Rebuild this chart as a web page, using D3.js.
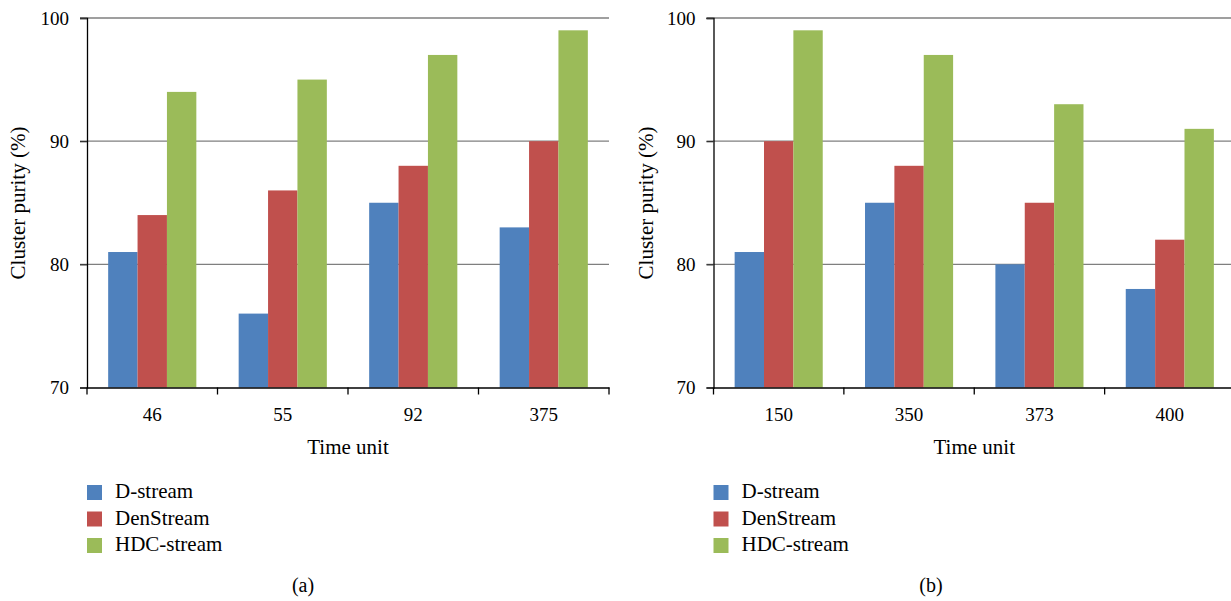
<!DOCTYPE html>
<html>
<head>
<meta charset="utf-8">
<script src="https://cdn.jsdelivr.net/npm/d3@7"></script>
<style>
  html, body { margin: 0; padding: 0; background: #fff; }
  svg { display: block; }
</style>
</head>
<body>
<svg id="chart" width="1231" height="601"></svg>
<script>
// ---- data ----
const series = ["D-stream", "DenStream", "HDC-stream"];
const colors = ["#4F81BD", "#C0504D", "#9BBB59"];
const yTicks = [70, 80, 90, 100];

const categoriesA = ["46", "55", "92", "375"];
const dstreamA    = [81, 76, 85, 83];
const denstreamA  = [84, 86, 88, 90];
const hdcstreamA  = [94, 95, 97, 99];

const categoriesB = ["150", "350", "373", "400"];
const dstreamB    = [81, 85, 80, 78];
const denstreamB  = [90, 88, 85, 82];
const hdcstreamB  = [99, 97, 93, 91];

const yTitle = "Cluster purity (%)";
const xTitle = "Time unit";

// ---- drawing ----
const FONT = "'Liberation Serif', 'Times New Roman', Times, 'DejaVu Serif', serif";
const svg = d3.select("#chart");

function styleText(sel, size) {
  sel.style("font-family", FONT).style("font-size", size + "px").attr("fill", "#000");
}

function panel(opts) {
  const { categories, values, x0, x1, yTitleX, captionX, caption } = opts;
  const top = 18, bottom = 387.5;
  const g = svg.append("g");

  const x = d3.scaleBand().domain(categories).range([x0, x1]).padding(0);
  const xs = d3.scaleBand().domain(series).range([0, x.bandwidth()])
    .paddingInner(0).paddingOuter(0.72);
  const y = d3.scaleLinear().domain([70, 100]).range([bottom, top]);

  // gridlines
  g.append("g").selectAll("line")
    .data(yTicks.filter(t => t > 70))
    .join("line")
    .attr("x1", x0 - 7).attr("x2", x1)
    .attr("y1", d => y(d)).attr("y2", d => y(d))
    .attr("stroke", "#7f7f7f").attr("stroke-width", 1.3);

  // bars
  categories.forEach((c, i) => {
    series.forEach((s, j) => {
      const v = values[j][i];
      g.append("rect")
        .attr("x", x(c) + xs(s))
        .attr("y", y(v))
        .attr("width", xs.bandwidth())
        .attr("height", y(70) - y(v))
        .attr("fill", colors[j]);
    });
  });

  // y axis
  const yAxis = d3.axisLeft(y).tickValues(yTicks).tickSize(7).tickPadding(11);
  const ya = g.append("g").attr("transform", `translate(${x0},0)`).call(yAxis);
  ya.attr("font-family", null).attr("font-size", null);
  ya.select(".domain").attr("stroke", "#000").attr("stroke-width", 1.3);
  ya.selectAll(".tick line").attr("stroke", "#333").attr("stroke-width", 1.3);
  styleText(ya.selectAll(".tick text"), 19);

  // x axis
  const xAxis = d3.axisBottom(x).tickSize(0).tickPadding(20);
  const xa = g.append("g").attr("transform", `translate(0,${bottom})`).call(xAxis);
  xa.attr("font-family", null).attr("font-size", null);
  xa.select(".domain").attr("stroke", "#000").attr("stroke-width", 1.3);
  styleText(xa.selectAll(".tick text"), 19);
  // category boundary ticks
  const bounds = categories.map(c => x(c)).concat([x1]);
  xa.append("g").selectAll("line").data(bounds).join("line")
    .attr("x1", d => d).attr("x2", d => d)
    .attr("y1", 0).attr("y2", 7)
    .attr("stroke", "#000").attr("stroke-width", 1.3);

  // axis titles
  styleText(g.append("text")
    .attr("x", (x0 + x0 + 4 * x.bandwidth()) / 2).attr("y", 454)
    .attr("text-anchor", "middle").text(xTitle), 21);
  styleText(g.append("text")
    .attr("transform", `translate(${yTitleX},203) rotate(-90)`)
    .attr("text-anchor", "middle").text(yTitle), 21);

  // legend
  series.forEach((s, j) => {
    const ly = 485 + j * 26.5;
    g.append("rect").attr("x", x0).attr("y", ly).attr("width", 15).attr("height", 15)
      .attr("fill", colors[j]);
    styleText(g.append("text").attr("x", x0 + 28).attr("y", ly + 13).text(s), 21);
  });

  // caption
  styleText(g.append("text").attr("x", captionX).attr("y", 592)
    .attr("text-anchor", "middle").text(caption), 20);
}

panel({
  categories: categoriesA,
  values: [dstreamA, denstreamA, hdcstreamA],
  x0: 87, x1: 609, yTitleX: 25, captionX: 303, caption: "(a)"
});
panel({
  categories: categoriesB,
  values: [dstreamB, denstreamB, hdcstreamB],
  x0: 713.5, x1: 1235, yTitleX: 653, captionX: 931, caption: "(b)"
});
</script>
</body>
</html>
